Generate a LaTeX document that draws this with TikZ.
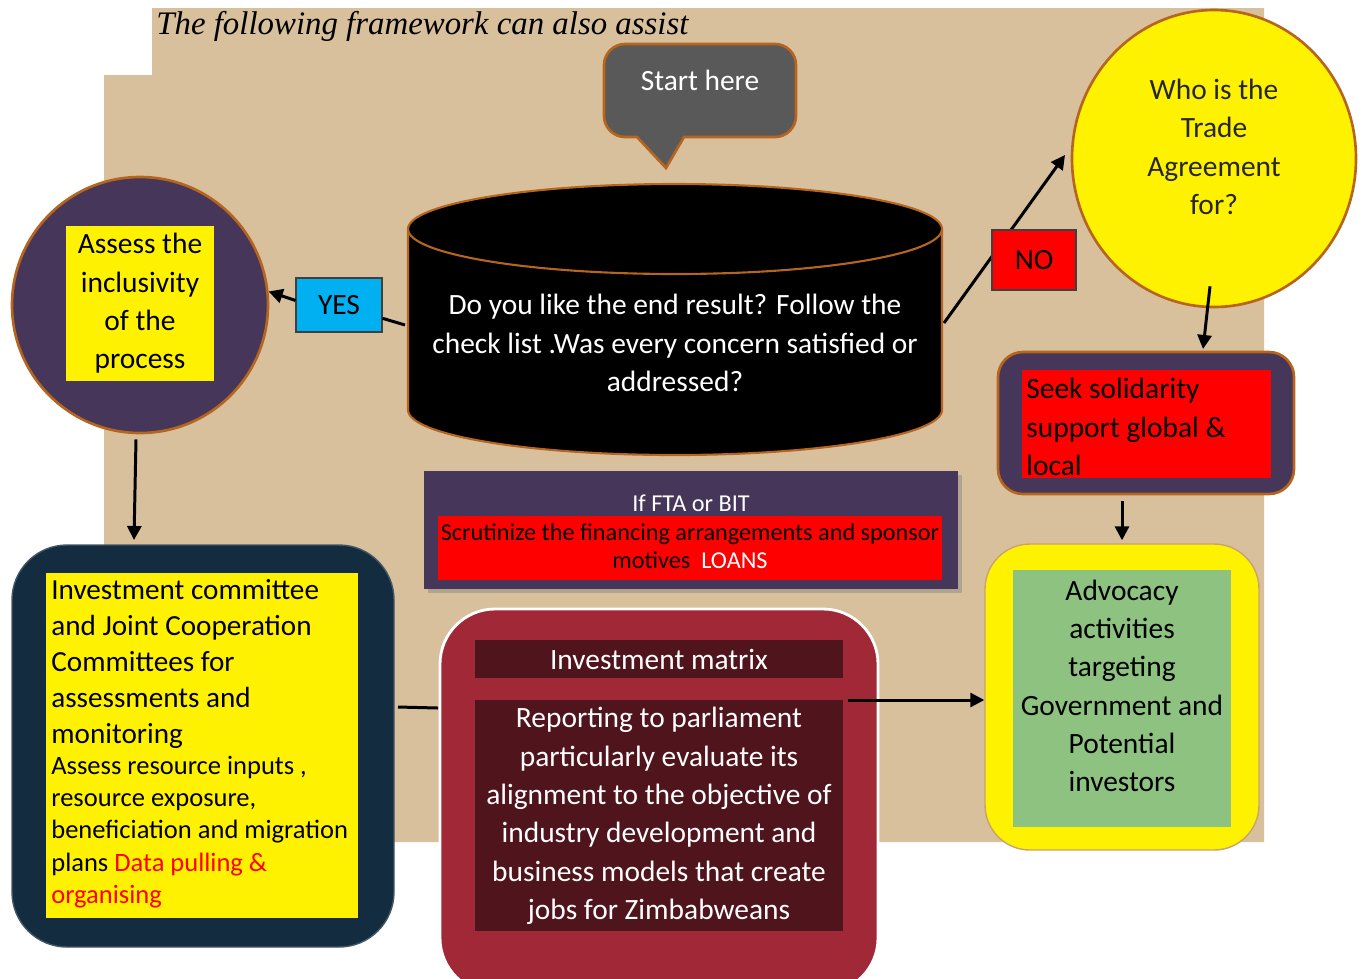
\documentclass[tikz,border=0pt]{standalone}
\usepackage{fontspec}
\setmainfont{Carlito}
\newfontfamily\titlefont{Liberation Serif}
\usetikzlibrary{arrows.meta,shadows,calc,shapes.geometric}
\definecolor{tanbg}{HTML}{D8C09C}
\definecolor{brn}{HTML}{B5651D}
\definecolor{purp}{HTML}{463659}
\definecolor{navy}{HTML}{132C3F}
\definecolor{crim}{HTML}{A02837}
\definecolor{dcrim}{HTML}{4F141C}
\definecolor{grn}{HTML}{8EC281}
\definecolor{sky}{HTML}{00B0F0}
\definecolor{bubble}{HTML}{595959}
\definecolor{dtext}{HTML}{262626}
\definecolor{advedge}{HTML}{C9A46A}
\def\pxu{0.02cm}
\newcommand\fA{\fontsize{16.75}{21.8}\selectfont}
\newcommand\fB{\fontsize{16.6}{20.4}\selectfont}
\newcommand\fC{\fontsize{15.1}{18.4}\selectfont}
\newcommand\fD{\fontsize{13.8}{15.9}\selectfont}
\begin{document}
\begin{tikzpicture}[x=0.02cm,y=-0.02cm,
  conn/.style={line width=1.7pt, draw=black},
  arr/.style={conn, -{Triangle[length=8pt,width=8pt]}},
  lbl/.style={draw=black!75, line width=0.6pt, font=\fA, inner sep=0pt}]
\useasboundingbox (0,0) rectangle (1364,978);
% background
\fill[tanbg] (152,8) -- (1264,8) -- (1264,842) -- (104,842) -- (104,75) -- (152,75) -- cycle;
\node[anchor=base west, inner sep=0pt, font=\titlefont\itshape\fontsize{18.7}{20}\selectfont] (title) at (156,34) {The following framework can also assist};
% speech bubble
\draw[brn, line width=1.5pt, fill=bubble] (637,137) -- (666,168) -- (684,137) [rounded corners=12] -- (796,137) -- (796,44) -- (604,44) -- (604,137) [sharp corners] -- cycle;
\node[text=white, font=\fA] (start) at (700,80) {Start here};
% cylinder
\draw[brn, line width=1.2pt, fill=black] (408,229) -- (408,410) arc[start angle=180, end angle=0, x radius=267, y radius=45] -- (942,229) arc[start angle=0, end angle=-180, x radius=267, y radius=45] -- cycle;
\draw[brn, line width=1.2pt] (408,229) arc[start angle=180, end angle=0, x radius=267, y radius=45];
\node[text=white, align=center, font=\fA] (cyl) at (675,343) {Do you like the end result? Follow the\\check list .Was every concern satisfied or\\addressed?};
\coordinate (cylL) at (405,325);
\coordinate (cylR) at (944,323);
% left circle
\node[circle, draw=brn, line width=1.5pt, fill=purp, minimum size={256*\pxu}, inner sep=0pt] (assess) at (140,305) {};
\node[fill=yellow, minimum width={148*\pxu}, minimum height={155*\pxu}, inner sep=0pt, align=center, font=\fA] (assessin) at (140,303.5) {Assess the\\inclusivity\\of the\\process};
% YES
\node[lbl, fill=sky, minimum width={86*\pxu}, minimum height={54*\pxu}] (yes) at (339,305) {YES};
\draw[conn] (cylL) -- (yes.-17);
\draw[arr] (yes.174) -- (assess.6);
% NO and who
\coordinate (noend) at (1065,155);
\draw[arr] (cylR) -- (noend);
\node[lbl, fill=red, minimum width={84*\pxu}, minimum height={60*\pxu}] (no) at (1034,260) {NO};
\node[ellipse, draw=brn, line width=1.5pt, fill=yellow, minimum width={284*\pxu}, minimum height={297*\pxu}, inner sep=0pt] (who) at (1214,158.5) {};
\node[text=dtext, align=center, font=\fA] (whotext) at (1214,147) {Who is the\\Trade\\Agreement\\for?};
% seek solidarity
\node[draw=brn, line width=1.5pt, fill=purp, rounded corners=0.5cm, minimum width={296*\pxu}, minimum height={142*\pxu}, inner sep=0pt] (seek) at (1146,423) {};
\node[fill=red, minimum width={249*\pxu}, minimum height={108*\pxu}, inner sep=0pt] (seekin) at (1146.5,424) {};
\node[anchor=west, align=left, font=\fA, inner sep=0pt] (seektext) at (1026,427) {Seek solidarity\\support global \&\\local};
\draw[arr] ($(who.south)+(-4,-22)$) -- (1203,349);
% advocacy
\node[draw=advedge, line width=0.8pt, fill=yellow, rounded corners=0.9cm, minimum width={274*\pxu}, minimum height={306*\pxu}, inner sep=0pt] (adv) at (1122,697) {};
\node[fill=grn, minimum width={218*\pxu}, minimum height={257*\pxu}, inner sep=0pt] (advin) at (1122,698.5) {};
\node[align=center, font=\fA] (advtext) at (1122,686) {Advocacy\\activities\\targeting\\Government and\\Potential\\investors};
\draw[arr] ($(seek.south)+(-24,6)$) -- ($(adv.north)+(0,-3)$);
% FTA box
\node[fill=purp, minimum width={534*\pxu}, minimum height={118*\pxu}, inner sep=0pt, drop shadow={opacity=0.45, shadow xshift=2pt, shadow yshift=-2pt}] (fta) at (691,530) {};
\node[text=white, font=\fD] (ftatitle) at (691,503) {If FTA or BIT};
\node[fill=red, minimum width={504*\pxu}, minimum height={64*\pxu}, inner sep=0pt] (ftain) at (690,548) {};
\node[align=center, font=\fD] (ftatext) at (690,546) {Scrutinize the financing arrangements and sponsor\\motives\ \ \textcolor{white}{LOANS}};
% navy box
\node[draw=navy!80!white, line width=0.8pt, fill=navy, rounded corners=1.1cm, minimum width={382*\pxu}, minimum height={402*\pxu}, inner sep=0pt] (navybox) at (203,746) {};
\node[fill=yellow, minimum width={312*\pxu}, minimum height={345*\pxu}, inner sep=0pt] (navyin) at (202,745.5) {};
\node[anchor=west, align=left, font=\fB, inner sep=0pt] (navyt1) at (51,664) {Investment committee\\and Joint Cooperation\\Committees for\\assessments and\\monitoring};
\node[anchor=west, align=left, font=\fC, inner sep=0pt] (navyt2) at (51,832) {Assess resource inputs ,\\resource exposure,\\beneficiation and migration\\plans \textcolor{red}{Data pulling \&}\\\textcolor{red}{organising}};
% crimson box
\node[draw=white, line width=1.6pt, fill=crim, rounded corners=1.1cm, minimum width={438*\pxu}, minimum height={384*\pxu}, inner sep=0pt] (crimbox) at (659,801) {};
\node[fill=dcrim, minimum width={368*\pxu}, minimum height={38*\pxu}, inner sep=0pt, text=white, font=\fA] (matrix) at (659,659) {Investment matrix};
\node[fill=dcrim, minimum width={368*\pxu}, minimum height={231*\pxu}, inner sep=0pt] (report) at (659,815.5) {};
\node[text=white, align=center, font=\fA] (reporttext) at (659,816) {Reporting to parliament\\particularly evaluate its\\alignment to the objective of\\industry development and\\business models that create\\jobs for Zimbabweans};
% connectors
\draw[arr] ($(assess.south)+(-4,5)$) -- (134,540);
\coordinate (l1) at (398,707);
\coordinate (l2) at (438,708);
\draw[conn] (l1) -- (l2);
\coordinate (r1) at (848,700);
\draw[arr] (r1) -- (adv.west |- r1);
\end{tikzpicture}
\end{document}
